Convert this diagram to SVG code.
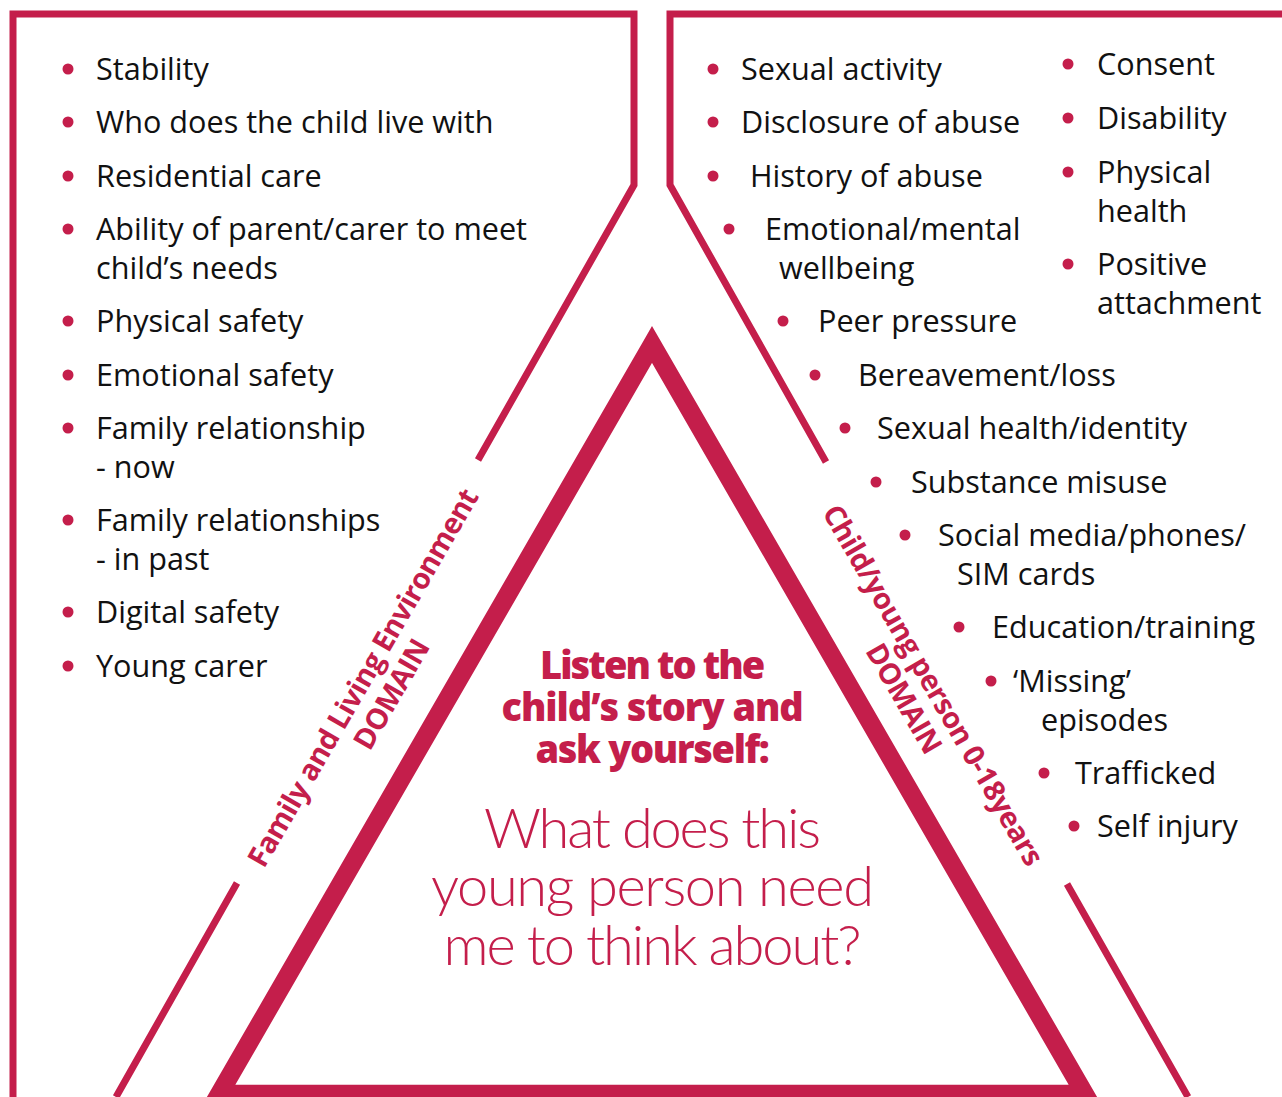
<svg xmlns="http://www.w3.org/2000/svg" width="1282" height="1097" viewBox="0 0 1282 1097">
<style>
.frame{fill:none;stroke:#C41E4B;stroke-width:7;stroke-linejoin:miter}
.tri{fill:none;stroke:#C41E4B;stroke-width:18.5;stroke-linejoin:miter}
.item{font-family:"Open Sans","Liberation Sans",sans-serif;font-size:30.6px;fill:#111}
.dot{fill:#C41E4B}
.dom{font-family:"Open Sans","Liberation Sans",sans-serif;font-size:29px;font-weight:700;fill:#C41E4B;text-anchor:middle;letter-spacing:-0.6px}
.head{font-family:"Open Sans","Liberation Sans",sans-serif;font-size:38px;font-weight:800;fill:#C41E4B;text-anchor:middle;letter-spacing:-1.3px}
.q{font-family:Lato,"Open Sans","Liberation Sans",sans-serif;font-size:56px;font-weight:300;fill:#C41E4B;text-anchor:middle;letter-spacing:-1px}
</style>
<rect width="1282" height="1097" fill="#fff"/>
<g id="connectors">
<path class="frame" d="M13,1097 V14 H634 V185 L478,460 M237,883 L116,1097"/>
<path class="frame" d="M1282,14 H670 V185 L826,462 M1067,884 L1188,1097"/>
</g>
<g id="triangle">
<polygon class="tri" points="652,344.5 219.3,1094 1084.7,1094"/>
</g>
<g id="family-domain">
<circle class="dot" cx="68" cy="69" r="5.5"/><text class="item" x="96" y="80">Stability</text>
<circle class="dot" cx="68" cy="122" r="5.5"/><text class="item" x="96" y="133">Who does the child live with</text>
<circle class="dot" cx="68" cy="176" r="5.5"/><text class="item" x="96" y="187">Residential care</text>
<circle class="dot" cx="68" cy="229" r="5.5"/><text class="item" x="96" y="240">Ability of parent/carer to meet</text>
<text class="item" x="96" y="279">child’s needs</text>
<circle class="dot" cx="68" cy="321" r="5.5"/><text class="item" x="96" y="332">Physical safety</text>
<circle class="dot" cx="68" cy="375" r="5.5"/><text class="item" x="96" y="386">Emotional safety</text>
<circle class="dot" cx="68" cy="428" r="5.5"/><text class="item" x="96" y="439">Family relationship</text>
<text class="item" x="96" y="478">- now</text>
<circle class="dot" cx="68" cy="520" r="5.5"/><text class="item" x="96" y="531">Family relationships</text>
<text class="item" x="96" y="570">- in past</text>
<circle class="dot" cx="68" cy="612" r="5.5"/><text class="item" x="96" y="623">Digital safety</text>
<circle class="dot" cx="68" cy="666" r="5.5"/><text class="item" x="96" y="677">Young carer</text>
</g>
<g id="child-domain">
<circle class="dot" cx="713" cy="69" r="5.5"/><text class="item" x="741" y="80">Sexual activity</text>
<circle class="dot" cx="713" cy="122" r="5.5"/><text class="item" x="741" y="133">Disclosure of abuse</text>
<circle class="dot" cx="713" cy="176" r="5.5"/><text class="item" x="750" y="187">History of abuse</text>
<circle class="dot" cx="729" cy="229" r="5.5"/><text class="item" x="765" y="240">Emotional/mental</text>
<text class="item" x="779" y="279">wellbeing</text>
<circle class="dot" cx="783" cy="321" r="5.5"/><text class="item" x="818" y="332">Peer pressure</text>
<circle class="dot" cx="815" cy="375" r="5.5"/><text class="item" x="858" y="386">Bereavement/loss</text>
<circle class="dot" cx="845" cy="428" r="5.5"/><text class="item" x="877" y="439">Sexual health/identity</text>
<circle class="dot" cx="876" cy="482" r="5.5"/><text class="item" x="911" y="493">Substance misuse</text>
<circle class="dot" cx="905" cy="535" r="5.5"/><text class="item" x="938" y="546">Social media/phones/</text>
<text class="item" x="957" y="585">SIM cards</text>
<circle class="dot" cx="959" cy="627" r="5.5"/><text class="item" x="992" y="638">Education/training</text>
<circle class="dot" cx="991" cy="681" r="5.5"/><text class="item" x="1013" y="692">‘Missing’</text>
<text class="item" x="1041" y="731">episodes</text>
<circle class="dot" cx="1044" cy="773" r="5.5"/><text class="item" x="1075" y="784">Trafficked</text>
<circle class="dot" cx="1074" cy="826" r="5.5"/><text class="item" x="1097" y="837">Self injury</text>
<circle class="dot" cx="1068" cy="64" r="5.5"/><text class="item" x="1097" y="75">Consent</text>
<circle class="dot" cx="1068" cy="118" r="5.5"/><text class="item" x="1097" y="129">Disability</text>
<circle class="dot" cx="1068" cy="172" r="5.5"/><text class="item" x="1097" y="183">Physical</text>
<text class="item" x="1097" y="222">health</text>
<circle class="dot" cx="1068" cy="264" r="5.5"/><text class="item" x="1097" y="275">Positive</text>
<text class="item" x="1097" y="314">attachment</text>
</g>
<g id="family-label" transform="translate(363,678) rotate(-60)">
<text class="dom" x="0" y="10">Family and Living Environment</text>
<text class="dom" x="0" y="43">DOMAIN</text>
</g>
<g id="child-label" transform="translate(933,685) rotate(60)">
<text class="dom" x="0" y="10">Child/young person 0-18years</text>
<text class="dom" x="-3" y="42">DOMAIN</text>
</g>
<g id="centre">
<text class="head" x="652" y="679" textLength="224" lengthAdjust="spacing">Listen to the</text>
<text class="head" x="652" y="721" textLength="301" lengthAdjust="spacing">child’s story and</text>
<text class="head" x="652" y="763" textLength="233" lengthAdjust="spacing">ask yourself:</text>
<text class="q" x="652" y="848" textLength="336" lengthAdjust="spacing">What does this</text>
<text class="q" x="652" y="906" textLength="442" lengthAdjust="spacing">young person need</text>
<text class="q" x="652" y="965" textLength="417" lengthAdjust="spacing">me to think about?</text>
</g>
</svg>
